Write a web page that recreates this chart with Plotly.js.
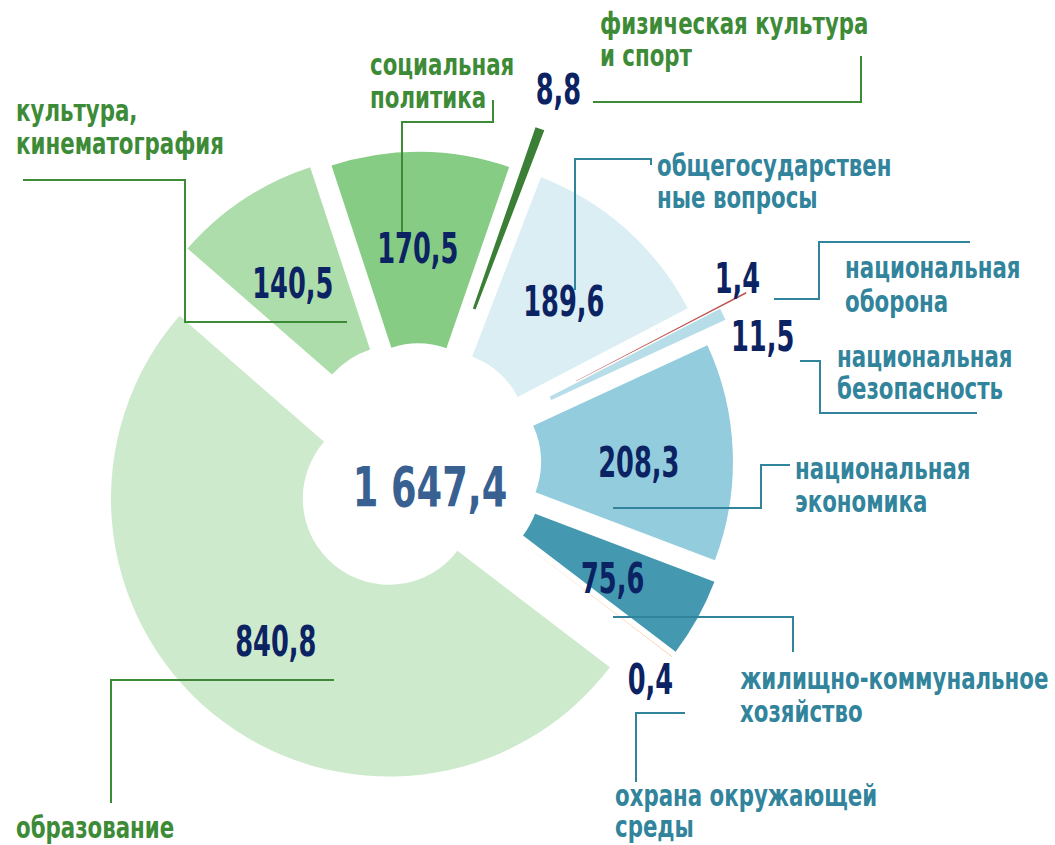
<!DOCTYPE html>
<html>
<head>
<meta charset="utf-8">
<script src="https://cdn.plot.ly/plotly-3.0.1.min.js"></script>
<style>html,body{margin:0;padding:0;background:#fff;}#chart{width:1055px;height:845px;}</style>
</head>
<body>
<div id="chart"></div>
<script>
// ---- data ----
const categories = ['общегосударственные вопросы', 'национальная оборона', 'национальная безопасность',
  'национальная экономика', 'жилищно-коммунальное хозяйство', 'охрана окружающей среды',
  'образование', 'культура, кинематография', 'социальная политика', 'физическая культура и спорт'];
const values = [189.6, 1.4, 11.5, 208.3, 75.6, 0.4, 840.8, 140.5, 170.5, 8.8];
const labelLines = [['общегосударствен', 'ные вопросы'], ['национальная', 'оборона'], ['национальная', 'безопасность'],
  ['национальная', 'экономика'], ['жилищно-коммунальное', 'хозяйство'], ['охрана окружающей', 'среды'],
  ['образование'], ['культура,', 'кинематография'], ['социальная', 'политика'], ['физическая культура', 'и спорт']];

// ---- styles / layout ----
const colors = ['#DAEEF3', '#C0504D', '#B7DEE8', '#93CDDD', '#4499B1', '#F79646', '#CEEACD', '#ADDDAB', '#86CC84', '#3A7F35'];
const pulls = [0.126, 0.33, 0.22, 0.133, 0.15, 0.15, 0.165, 0.137, 0.12, 0.28];
const groupColor = ['#31849B', '#31849B', '#31849B', '#31849B', '#31849B', '#31849B', '#3D8B37', '#3D8B37', '#3D8B37', '#3D8B37'];
const valuePos = [[564, 302], [737, 278], [762, 337], [639, 462], [612, 578], [650, 679], [276, 641], [293, 283], [418, 248], [558, 90]];
const namePos = [[655, [167, 200]], [843, [270, 303]], [835, [358, 390]], [793, [470, 503]], [738, [680, 713]],
  [613, [797, 828]], [14, [829]], [14, [112, 145]], [368, [67, 99]], [598, [25, 58]]];
const leaders = [
  [[651, 165], [651, 159], [575, 159], [575, 290]],
  [[970, 242], [819, 242], [819, 299], [774, 299]],
  [[800, 361], [820, 361], [820, 413], [977, 413]],
  [[613, 508], [761, 508], [761, 465], [790, 465]],
  [[613, 617], [793, 617], [793, 652]],
  [[685, 713], [636, 713], [636, 782]],
  [[334, 680], [111, 680], [111, 803]],
  [[23, 180], [185, 180], [185, 322], [347, 322]],
  [[493, 100], [493, 122], [402, 122], [402, 237]],
  [[861, 56], [861, 102], [593, 102]]
];

const W = 1055, H = 845;
const px = x => x / W, py = y => 1 - y / H;
const FONT = '"Liberation Sans Narrow", "Arial Narrow", "DejaVu Sans Condensed", sans-serif';
const fmt = v => v.toFixed(1).replace('.', ',');
const total = values.reduce((a, b) => a + b, 0);
const fmtTotal = v => { const s = v.toFixed(1).split('.'); return s[0].replace(/\B(?=(\d{3})+(?!\d))/g, ' ') + ',' + s[1]; };

// pie geometry
const C = [418, 463], R = 278, maxPull = Math.max(...pulls);
const half = R * (1 + maxPull);

const trace = {
  type: 'pie', values: values, labels: categories, sort: false, direction: 'clockwise', rotation: 21,
  hole: 0.31, pull: pulls, textinfo: 'none', hoverinfo: 'label+value',
  marker: { colors: colors, line: { width: 0 } },
  domain: { x: [px(C[0] - half), px(C[0] + half)], y: [py(C[1] + half), py(C[1] - half)] },
  showlegend: false
};

const annotations = [];
const squeeze = []; // [scaleX, origin] per annotation
values.forEach((v, i) => {
  annotations.push({ xref: 'paper', yref: 'paper', x: px(valuePos[i][0]), y: py(valuePos[i][1]), xanchor: 'center', yanchor: 'middle',
    text: '<b>' + fmt(v) + '</b>', showarrow: false, font: { family: FONT, size: 42, color: '#0B2263' } });
  squeeze.push([0.68, 'center']);
  labelLines[i].forEach((ln, k) => {
    annotations.push({ xref: 'paper', yref: 'paper', x: px(namePos[i][0]), y: py(namePos[i][1][k] - 2), xanchor: 'left', yanchor: 'middle',
      text: '<b>' + ln + '</b>', showarrow: false, font: { family: FONT, size: 30, color: groupColor[i] } });
    squeeze.push([0.79, 'left center']);
  });
});
annotations.push({ xref: 'paper', yref: 'paper', x: px(430), y: py(486), xanchor: 'center', yanchor: 'middle',
  text: '<b>' + fmtTotal(total) + '</b>', showarrow: false, font: { family: FONT, size: 56, color: '#386191' } });
squeeze.push([0.73, 'center']);

const shapes = leaders.map((pts, i) => ({
  type: 'path', xref: 'paper', yref: 'paper', layer: 'above',
  path: pts.map((p, k) => (k ? 'L' : 'M') + px(p[0]) + ',' + py(p[1])).join(' '),
  line: { color: groupColor[i], width: 2 }
}));

const layout = {
  width: W, height: H, margin: { l: 0, r: 0, t: 0, b: 0 }, paper_bgcolor: '#fff', plot_bgcolor: '#fff',
  annotations: annotations, shapes: shapes, showlegend: false
};
Plotly.newPlot('chart', [trace], layout, { displayModeBar: false, staticPlot: true }).then(() => {
  document.querySelectorAll('#chart g.annotation').forEach(g => {
    const idx = +g.getAttribute('data-index');
    const t = g.querySelector('text.annotation-text');
    if (!t || !squeeze[idx]) return;
    t.style.transformBox = 'fill-box';
    t.style.transformOrigin = squeeze[idx][1];
    t.style.transform = 'scaleX(' + squeeze[idx][0] + ')';
  });
});
</script>
</body>
</html>
